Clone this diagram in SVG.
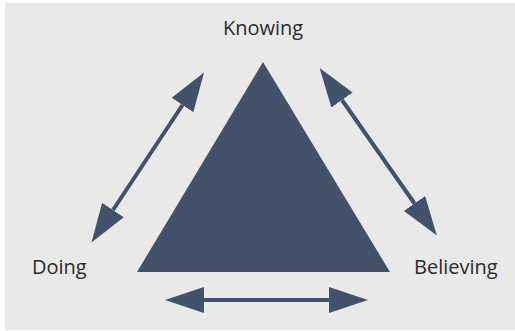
<svg xmlns="http://www.w3.org/2000/svg" width="515" height="331" viewBox="0 0 515 331">
<style>
.lbl{font-family:"Open Sans","Liberation Sans",sans-serif;font-size:20px;fill:#2b2b2b}
.conn{stroke:#42526a;stroke-width:4;fill:none}
</style>
<defs>
<marker id="head" viewBox="0 0 39 26" markerWidth="39" markerHeight="26" refX="0" refY="13" orient="auto-start-reverse" markerUnits="userSpaceOnUse">
<path d="M0,0 L39,13 L0,26 Z" fill="#42526a"/>
</marker>
</defs>
<rect x="0" y="0" width="515" height="331" fill="#ffffff"/>
<rect x="5" y="3" width="510" height="327" fill="#e9e9e9"/>
<g id="triangle">
<polygon points="263,62 137,272 390,272" fill="#42526a"/>
</g>
<g id="knowing"><text class="lbl" x="263" y="35" text-anchor="middle">Knowing</text></g>
<g id="doing"><text class="lbl" x="32" y="274">Doing</text></g>
<g id="believing"><text class="lbl" x="414" y="274">Believing</text></g>
<g id="connectors">
<line class="conn" x1="113" y1="210" x2="182.5" y2="105" marker-start="url(#head)" marker-end="url(#head)"/>
<line class="conn" x1="342" y1="100" x2="414.5" y2="203.5" marker-start="url(#head)" marker-end="url(#head)"/>
<line class="conn" x1="204" y1="300" x2="329" y2="300" marker-start="url(#head)" marker-end="url(#head)"/>
</g>
</svg>
